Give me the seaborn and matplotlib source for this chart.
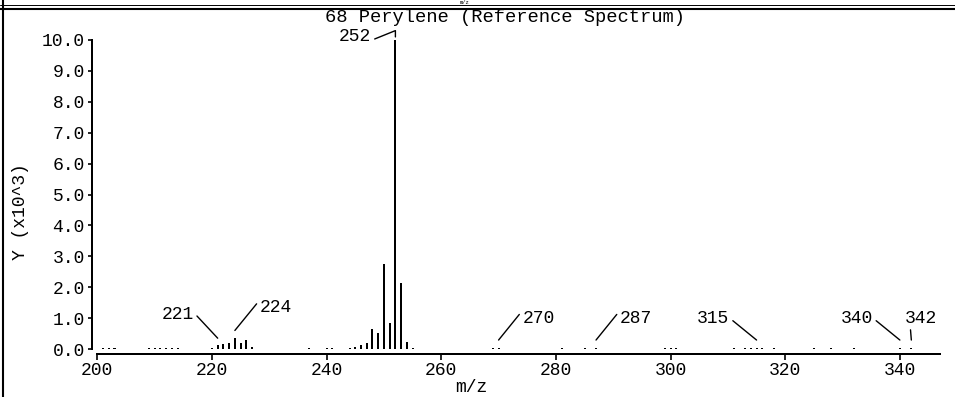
import matplotlib
matplotlib.use("Agg")
import numpy as np
import pandas as pd
import matplotlib.pyplot as plt
import seaborn as sns
from matplotlib.lines import Line2D
from matplotlib.ticker import FormatStrFormatter

# ---------------- data ----------------
mz = [201, 202, 203,
      209, 210, 211, 212, 213, 214,
      220, 221, 222, 223, 224, 225, 226, 227,
      237, 240, 241,
      244, 245, 246, 247, 248, 249, 250, 251, 252, 253, 254, 255,
      269, 270, 281, 285, 287,
      299, 300, 301,
      311, 313, 314, 315, 316, 318,
      325, 328, 332,
      340, 342]
intensity = [0.04, 0.04, 0.04,
             0.04, 0.04, 0.04, 0.04, 0.04, 0.04,
             0.04, 0.12, 0.16, 0.20, 0.36, 0.20, 0.28, 0.05,
             0.04, 0.04, 0.04,
             0.04, 0.06, 0.12, 0.20, 0.64, 0.52, 2.75, 0.85, 10.0, 2.13, 0.24, 0.04,
             0.04, 0.04, 0.04, 0.04, 0.04,
             0.04, 0.04, 0.04,
             0.04, 0.04, 0.04, 0.04, 0.04, 0.04,
             0.04, 0.04, 0.04,
             0.04, 0.04]

x_ticks = [200, 220, 240, 260, 280, 300, 320, 340]
y_ticks = [0, 1, 2, 3, 4, 5, 6, 7, 8, 9, 10]

title = "68 Perylene (Reference Spectrum)"
x_label = "m/z"
y_label = "Y (x10^3)"

# labelled peaks: m/z, text offset (pixels), gap above peak, side of text
label_mz = [221, 224, 252, 270, 287, 315, 340, 342]
label_dx = [-24, 25, -24, 24, 24, -27, -27, -6]
label_dy = [24, 23, 0, 22, 22, 22, 22, 22]
label_gap = [0.23, 0.24, 0.1, 0.25, 0.25, 0.25, 0.25, 0.25]
label_ha = ["right", "left", "right", "left", "left", "right", "right", "left"]
label_rel = [(1, 0.6), (0, 0.95), (1, 0.3), (0, 0.95), (0, 0.95), (1, 0.5), (1, 0.5), (0.15, 0.05)]

# ---------------- style ----------------
sns.set_theme(style="ticks", rc={
    "text.color": "black", "axes.labelcolor": "black",
    "xtick.color": "black", "ytick.color": "black",
    "axes.edgecolor": "black",
})
plt.rcParams["font.family"] = ["Liberation Mono", "DejaVu Sans Mono"]

W, H = 955, 397
fig = plt.figure(figsize=(W / 100, H / 100), dpi=100)
ax_l, ax_r, ax_t, ax_b = 97.3, 940, 40, 349
ax = fig.add_axes([ax_l / W, 1 - ax_b / H, (ax_r - ax_l) / W, (ax_b - ax_t) / H])

df = pd.DataFrame({"mz": mz, "intensity": intensity})
sns.barplot(data=df, x="mz", y="intensity", native_scale=True, width=0.35,
            color="black", saturation=1, linewidth=0, errorbar=None,
            orient="x", ax=ax)

ax.set_xlim(200, 347)
ax.set_ylim(0, 10)
ax.set_xticks(x_ticks)
ax.set_yticks(y_ticks)
ax.yaxis.set_major_formatter(FormatStrFormatter("%.1f"))
ax.xaxis.set_major_formatter(FormatStrFormatter("%d"))

sns.despine(ax=ax, offset={"left": 4, "bottom": 3.6})
for s in ("left", "bottom"):
    ax.spines[s].set_linewidth(1.44)
ax.tick_params(axis="x", length=4.3, width=1.2, pad=1.5, labelsize=13)
ax.tick_params(axis="y", length=3, width=1.2, pad=2, labelsize=13)

ax.set_xlabel(x_label, fontsize=13, va="center")
ax.xaxis.set_label_coords((471 - ax_l) / (ax_r - ax_l), (ax_b - 388) / (ax_b - ax_t))
ax.set_ylabel(y_label, fontsize=13, va="center")
ax.yaxis.set_label_coords((20 - ax_l) / (ax_r - ax_l), (ax_b - 212) / (ax_b - ax_t))

ax.set_title(title, fontsize=13.5, x=(505 - ax_l) / (ax_r - ax_l),
             y=(ax_b - 17) / (ax_b - ax_t), pad=0, va="center")

lookup = dict(zip(mz, intensity))
for m, dx, dy, gap, ha, rel in zip(label_mz, label_dx, label_dy, label_gap, label_ha, label_rel):
    conn = "arc3"
    if m == 252:
        conn = "angle,angleA=22,angleB=90,rad=0"
    ax.annotate(str(m), xy=(m, lookup[m] + gap), xytext=(dx, dy),
                textcoords="offset pixels", ha=ha, va="center", fontsize=13,
                annotation_clip=False,
                arrowprops=dict(arrowstyle="-", color="black", lw=1.0,
                                shrinkA=0, shrinkB=0, relpos=rel,
                                connectionstyle=conn))

# ---------------- panel frame (top strip of the previous panel) ----------------
fig.text(465 / W, 1 - 0.5 / H, x_label, ha="center", va="top", fontsize=4)
fig.add_artist(Line2D([0, 1], [1 - 5 / H] * 2, transform=fig.transFigure, color="black", lw=0.7))
fig.add_artist(Line2D([0, 1], [1 - 8.5 / H] * 2, transform=fig.transFigure, color="black", lw=1.5))
fig.add_artist(Line2D([3 / W] * 2, [0, 1], transform=fig.transFigure, color="black", lw=1.5))

fig.savefig("out.png", dpi=100)
